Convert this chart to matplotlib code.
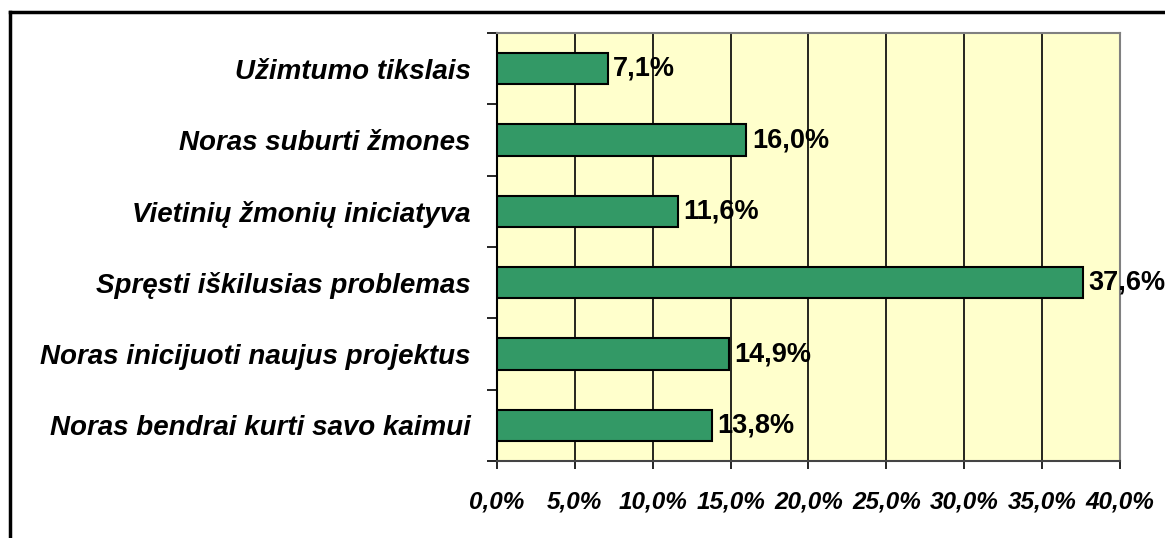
import matplotlib.pyplot as plt
from matplotlib.lines import Line2D
import numpy as np

categories = ['Užimtumo tikslais',
              'Noras suburti žmones',
              'Vietinių žmonių iniciatyva',
              'Spręsti iškilusias problemas',
              'Noras inicijuoti naujus projektus',
              'Noras bendrai kurti savo kaimui']
values = [7.1, 16.0, 11.6, 37.6, 14.9, 13.8]
xticks = [0, 5, 10, 15, 20, 25, 30, 35, 40]

plt.rcParams['font.family'] = 'Liberation Sans'

fig = plt.figure(figsize=(11.65, 5.38), dpi=100)
ax = fig.add_axes([497/1165, 1-461/538, (1120-497)/1165, (461-33)/538])
ax.set_facecolor('#FFFFCC')

n = len(categories)
pos = np.arange(n)
ax.barh(pos, values, height=0.44, color='#339966', edgecolor='black', lw=1.5, zorder=3)

for p, v in zip(pos, values):
    ax.annotate(('%.1f%%' % v).replace('.', ','), (v, p), xytext=(4, 0),
                textcoords='offset points', va='center', ha='left',
                fontsize=19.5, fontweight='bold', zorder=4)

ax.set_xlim(0, 40)
ax.set_ylim(n - 0.5, -0.5)
ax.set_xticks(xticks)
ax.set_xticklabels([('%.1f%%' % t).replace('.', ',') for t in xticks],
                   fontsize=17.5, fontweight='bold', fontstyle='italic')
ax.tick_params(axis='x', direction='out', length=6, width=1.2, pad=15)

ax.set_yticks(np.arange(n + 1) - 0.5)
ax.set_yticklabels([])
ax.set_yticks(pos, minor=True)
ax.set_yticklabels(categories, minor=True, fontsize=20, fontweight='bold', fontstyle='italic')
ax.tick_params(axis='y', which='major', direction='out', length=7, width=1.2)
ax.tick_params(axis='y', which='minor', length=0, pad=19)

ax.grid(axis='x', color='black', lw=1.2, zorder=1)

ax.spines['left'].set_color('black')
ax.spines['left'].set_linewidth(1.5)
ax.spines['bottom'].set_color('#444444')
ax.spines['bottom'].set_linewidth(1.5)
ax.spines['top'].set_color('#808080')
ax.spines['top'].set_linewidth(1.5)
ax.spines['right'].set_color('#808080')
ax.spines['right'].set_linewidth(1.5)

# outer frame (only top and left visible)
fig.add_artist(Line2D([10/1165, 10/1165], [0, 1-12/538], color='black', lw=2.5))
fig.add_artist(Line2D([10/1165, 1], [1-12/538, 1-12/538], color='black', lw=2.5))

fig.savefig('out.png', dpi=100)
